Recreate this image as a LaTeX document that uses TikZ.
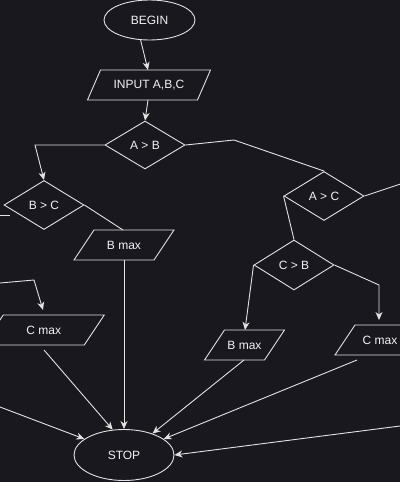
\documentclass[tikz,border=0pt]{standalone}
\usepackage{fontspec}
\setmainfont{Liberation Sans}
\usetikzlibrary{shapes.geometric,arrows.meta,calc}
\definecolor{bg}{HTML}{19181F}
\definecolor{fg}{HTML}{E2E2E2}
\definecolor{tx}{HTML}{F2F2F2}
\newcommand\pgram[6]{% name, cx, cy, width, slant, text
  \node[lbl] (#1) at (#2,#3) {#6};
  \draw[line] ({#2-#4/2+#5/2},{#3-15}) -- ({#2+#4/2+#5/2},{#3-15}) -- ({#2+#4/2-#5/2},{#3+15}) -- ({#2-#4/2-#5/2},{#3+15}) -- cycle;
}
\begin{document}
\begin{tikzpicture}[x=1pt,y=-1pt,
  every node/.style={text=tx,font=\fontsize{12}{14}\selectfont},
  line/.style={draw=fg,line width=0.9pt,line join=miter},
  arr/.style={line,-{Stealth[length=8pt,width=7pt,inset=2.5pt]}},
  term/.style={ellipse,draw=fg,line width=0.9pt,inner sep=0},
  dec/.style={diamond,draw=fg,line width=0.9pt,inner sep=0,minimum width=80pt},
  lbl/.style={inner sep=0}]
\fill[bg] (0,0) rectangle (400,482);
\useasboundingbox (0,0) rectangle (400,482);
\begin{scope}
\clip (0,0) rectangle (400,482);
% terminals
\node[term,minimum width=91pt,minimum height=40pt] (begin) at (149.5,20) {BEGIN};
\node[term,minimum width=100pt,minimum height=51pt] (stop) at (124,455) {STOP};
% decisions
\node[dec,minimum height=48pt] (ab) at (145,145) {A > B};
\node[dec,minimum height=49pt] (bc) at (44,205) {B > C};
\node[dec,minimum height=49pt] (ac) at (324,196) {A > C};
\node[dec,minimum height=50pt] (cb) at (294,265) {C > B};
% data boxes
\pgram{inp}{149}{85}{110}{13}{INPUT A,B,C}
\pgram{bmaxa}{124}{245}{80}{20}{B max}
\pgram{cmaxa}{43.75}{330}{101}{20}{C max}
\pgram{bmaxb}{244.5}{345}{60}{20}{B max}
\pgram{cmaxb}{380}{340}{70}{20}{C max}
% connection points
\coordinate (inpT) at (148,70);
\coordinate (inpB) at (148,100);
\coordinate (bmaxaT) at (123,230);
\coordinate (bmaxaB) at (124,260);
\coordinate (cmaxaT) at (43,310);
\coordinate (cmaxaB) at (44,350);
\coordinate (bmaxbT) at (245,330);
\coordinate (bmaxbB) at (244,360);
\coordinate (cmaxbT) at (379,320);
\coordinate (cmaxbB) at (357,360);
\coordinate (offL1) at (0,283);
\coordinate (offL2) at (0,407);
\coordinate (offR1) at (420,177.5);
\coordinate (offR2) at (400,426);
\coordinate (stubA) at (0,215);
\coordinate (stubB) at (10,215);
% connectors
\draw[arr] (begin.246) -- (inpT);
\draw[arr] (inpB) -- (ab.north);
\draw[arr] (ab.west) -- (35,145) -- (bc.north);
\draw[line] (bc.east) -- (bmaxaT);
\draw[line] (stubA) -- (stubB);
\draw[arr] (bmaxaB) -- (stop.north);
\draw[arr] (offL1) -- (34,280) -- (cmaxaT);
\draw[arr] (cmaxaB) -- (stop.114);
\draw[arr] (offL2) -- (stop.158);
\draw[line] (ab.east) -- (234,140) -- (ac.north);
\draw[line] (ac.east) -- (offR1);
\draw[line] (ac.west) -- (cb.north);
\draw[arr] (cb.west) -- (bmaxbT);
\draw[arr] (cb.east) -- (379,285) -- (cmaxbT);
\draw[arr] (bmaxbB) -- (stop.37);
\draw[arr] (cmaxbB) -- (stop.22);
\draw[arr] (offR2) -- (stop.east);
\end{scope}
\end{tikzpicture}
\end{document}
